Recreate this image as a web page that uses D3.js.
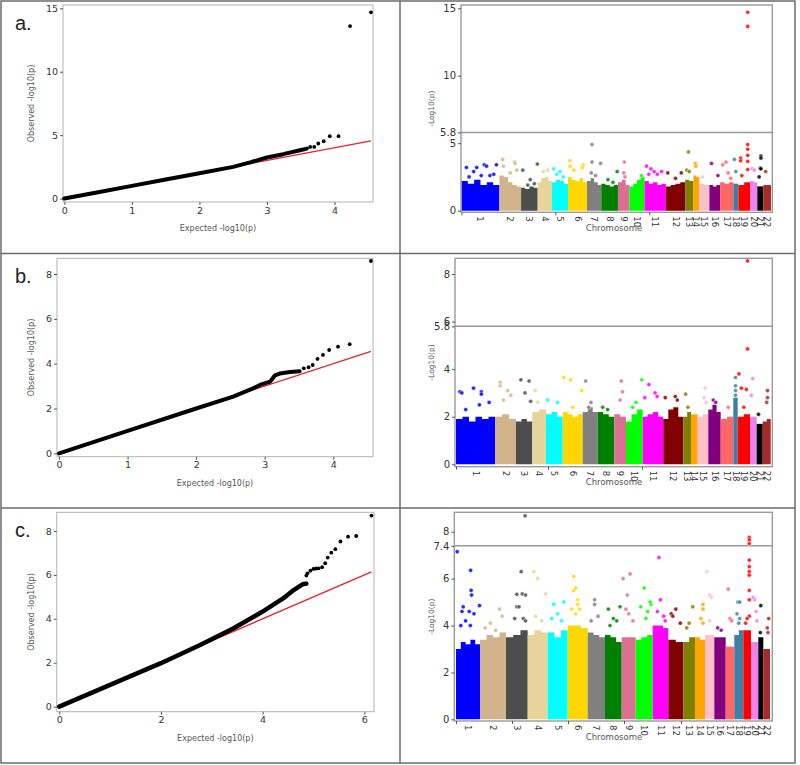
<!DOCTYPE html>
<html><head><meta charset="utf-8">
<script src="https://cdn.jsdelivr.net/npm/d3@7"></script>
<style>body{margin:0;background:#fff} svg{display:block} text{font-family:"DejaVu Sans",sans-serif}</style>
</head><body><svg id="chart" width="800" height="765"></svg>
<script>
// ---------------- DATA ----------------
const chromosomes = ["1","2","3","4","5","6","7","8","9","10","11","12","13","14","15","16","17","18","19","20","21","22"];
const chrColors = ["#0000ff","#d2b48c","#4d4d4d","#e6d49a","#00ffff","#ffd700","#808080","#008000","#db7093","#00ff00","#ff00ff","#800000","#808000","#ffa500","#ffc0cb","#800080","#ff6666","#3b80a5","#ff0000","#ee82ee","#000000","#a52a2a"];

// QQ plots: dense part of the curve [expected, observed], and the separate tail points
const qqCurveA = [[0,0],[0.5,0.5],[1,1],[1.5,1.5],[2,2],[2.5,2.5],[2.75,2.85],[3.0,3.24],[3.24,3.5],[3.49,3.81],[3.59,3.94]];
const qqTailA  = [[3.64,4.07],[3.70,4.07],[3.76,4.34],[3.84,4.52],[3.93,4.92],[4.06,4.92],[4.23,13.6],[4.54,14.68]];
const qqCurveB = [[0,0],[1,1],[2,2],[2.54,2.53],[2.83,2.9],[2.93,3.05],[3.08,3.2],[3.15,3.48],[3.22,3.56],[3.37,3.63],[3.51,3.66]];
const qqTailB  = [[3.57,3.79],[3.64,3.84],[3.70,3.94],[3.77,4.21],[3.85,4.39],[3.94,4.61],[4.07,4.76],[4.24,4.87],[4.55,8.58]];
const qqCurveC = [[0,0],[1,0.99],[2,1.98],[2.77,2.81],[3.43,3.57],[4.0,4.33],[4.41,4.94],[4.61,5.31],[4.80,5.59],[4.86,5.6]];
const qqTailC  = [[4.86,5.97],[4.88,6.07],[4.94,6.19],[5.0,6.27],[5.05,6.29],[5.10,6.30],[5.17,6.35],[5.23,6.53],[5.28,6.79],[5.35,7.01],[5.43,7.17],[5.53,7.52],[5.68,7.74],[5.84,7.77],[6.14,8.70]];
const qqXTicksA = [0,1,2,3,4], qqYTicksA = [0,5,10,15];
const qqXTicksB = [0,1,2,3,4], qqYTicksB = [0,2,4,6,8];
const qqXTicksC = [0,2,4,6],   qqYTicksC = [0,2,4,6,8];

// Manhattan: SNP counts per chromosome (thousands)
const snpA = [38,21.7,16.6,14.4,16,19,14.3,16.7,11.6,15,21.4,19.3,8.3,6,10,10.7,13.3,5,11.7,7.3,6,7.7];
const snpB = [39,21,16.3,13.7,16.7,20,15,16.6,11.7,16.7,20.6,20,7.7,6.7,10.6,12.4,12.6,4.4,12.3,6.7,6,8];
const snpC = [24,26,21.7,20,20,20,17.3,16.7,14,17,15.6,15,11.7,10,9.3,11.4,8.6,9,7.7,7.3,5,6.7];

// Upper edge of the dense mass of points, along each chromosome (-log10 p)
const denseA = [[2.2,2.0,2.3,1.9,2.1,1.9],[2.6,2.5,2.1,1.9,1.8],[1.7,1.6,1.8,1.7],[2.1,2.4,2.5,2.2],[2.1,2.3,2.2,2.0],[2.5,2.3,2.2,2.4,2.1],[2.2,2.4,2.1,1.9],[2.0,1.9,1.8,1.9],[2.1,2.3,1.9],[1.8,2.0,2.3,2.5],[2.2,2.0,2.1,1.9,2.0],[1.8,1.9,2.0,2.1],[2.3,2.2],[2.6,2.5],[2.0,1.9],[1.9,1.8,1.9],[2.1,2.0,2.1],[2.0],[1.9,2.1],[2.2,2.1],[1.8],[1.9,1.9]];
const denseB = [[1.9,2.0,1.8,2.0,1.9,2.0],[2.0,2.1,1.9],[1.8,1.9,1.8],[2.2,2.3],[2.1,2.2,2.0],[2.2,2.1,2.0,2.1],[2.2,2.4,2.2],[2.2,2.1,2.0],[2.1,2.0],[1.8,2.1,2.3],[2.0,2.1,2.2,2.0],[1.9,2.3,2.4,2.0],[2.0,2.2],[2.1],[2.0,2.1],[2.3,2.5,2.2],[1.9,2.0],[2.8],[2.0,2.1],[2.0],[1.7],[1.8,1.9]];
const denseC = [[3.0,3.3,3.2,3.4,3.2],[3.4,3.6,3.5,3.7],[3.5,3.6,3.8],[3.6,3.8,3.7],[3.7,3.5,3.8],[4.0,4.0,3.9],[3.7,3.6,3.5],[3.6,3.5,3.3],[3.5,3.5],[3.4,3.5,3.6],[4.0,4.0,3.9],[3.4,3.3],[3.3,3.5],[3.5,3.4],[3.6],[3.5,3.5],[3.1],[3.6,3.8],[3.8],[3.3],[3.5],[3.0]];

// Individual points above the dense mass: [chromosome, relative position in chromosome, -log10 p]
const hitsA = [
 [1,0.13,3.2],[1,0.32,2.9],[1,0.4,3.2],[1,0.52,2.6],[1,0.6,3.4],[1,0.66,3.3],[1,0.75,2.6],[1,0.92,3.4],[1,0.2,2.5],[1,0.85,2.7],
 [2,0.15,3.8],[2,0.18,3.3],[2,0.7,3.6],[2,0.72,3.5],[2,0.8,3.0],[2,0.5,2.8],
 [3,0.1,3.0],[3,0.55,2.3],[3,0.4,1.9],[3,0.8,2.0],[3,0.98,3.45],
 [4,0.7,3.0],[4,0.4,2.9],
 [5,0.1,3.1],[5,0.5,2.9],[5,0.7,2.5],[5,0.3,2.7],
 [6,0.1,3.7],[6,0.12,3.3],[6,0.8,3.4],[6,0.75,3.2],[6,0.3,3.0],
 [7,0.35,4.9],[7,0.35,3.6],[7,0.3,2.8],[7,0.95,3.5],[7,0.6,2.6],
 [8,0.4,2.3],[8,0.7,2.1],[8,0.95,2.9],
 [9,0.55,3.6],[9,0.5,2.8],[9,0.6,2.5],
 [10,0.8,2.6],
 [11,0.1,3.3],[11,0.3,3.1],[11,0.45,2.9],[11,0.6,2.7],[11,0.8,2.9],[11,0.2,2.7],
 [12,0.1,2.8],[12,0.8,2.8],[12,0.5,2.4],
 [13,0.4,4.35],[13,0.2,3.0],[13,0.5,2.9],
 [14,0.3,3.5],[14,0.4,3.3],
 [15,0.3,2.5],
 [16,0.2,3.5],[16,0.8,2.6],
 [17,0.2,3.4],[17,0.45,3.6],[17,0.6,2.8],[17,0.8,2.4],
 [18,0.2,3.8],[18,0.5,2.9],
 [19,0.2,3.9],[19,0.2,3.7],[19,0.8,4.9],[19,0.8,4.55],[19,0.8,4.1],[19,0.8,3.65],[19,0.8,3.05],[19,0.3,2.6],[19,0.8,14.7],[19,0.8,13.65],
 [20,0.3,3.1],[20,0.6,3.0],
 [21,0.6,4.05],[21,0.6,3.9],[21,0.5,3.15],[21,0.6,3.1],[21,0.3,2.5],
 [22,0.3,2.9]
];
const hitsB = [
 [1,0.1,3.05],[1,0.15,3.0],[1,0.45,3.2],[1,0.65,3.05],[1,0.65,2.95],[1,0.85,2.6],[1,0.6,2.5],[1,0.25,2.3],
 [2,0.25,3.45],[2,0.25,3.3],[2,0.6,3.1],[2,0.75,2.9],[2,0.4,2.7],
 [3,0.3,3.55],[3,0.8,3.5],[3,0.55,3.0],[3,0.9,2.65],
 [4,0.2,3.1],[4,0.4,2.6],
 [5,0.1,2.7],[5,0.7,2.6],
 [6,0.05,3.65],[6,0.4,3.55],[6,0.5,2.4],[6,0.95,3.1],
 [7,0.2,3.5],[7,0.55,2.6],[7,0.4,2.4],
 [8,0.3,2.4],[8,0.6,2.3],
 [9,0.6,3.5],[9,0.7,3.05],[9,0.5,2.7],
 [10,0.95,3.55],[10,0.6,2.6],[10,0.4,2.4],
 [11,0.3,3.35],[11,0.6,3.0],[11,0.7,2.85],[11,0.1,2.8],
 [12,0.1,2.8],[12,0.6,2.85],[12,0.7,2.7],
 [13,0.3,2.95],[13,0.6,2.4],
 [15,0.7,3.2],[15,0.6,2.8],[15,0.8,2.6],
 [16,0.4,2.7],[16,0.6,2.6],
 [17,0.6,2.4],
 [18,0.5,3.65],[18,0.5,3.3],[18,0.5,3.1],[18,0.5,2.9],
 [19,0.1,3.8],[19,0.3,3.2],[19,0.7,3.15],[19,0.5,2.4],[19,0.8,4.85],[19,0.8,8.55],
 [20,0.4,3.6],[20,0.2,2.9],
 [21,0.3,2.1],
 [22,0.6,3.1],[22,0.6,2.8],[22,0.5,2.6]
];
const hitsC = [
 [1,0.05,7.15],[1,0.61,6.35],[1,0.63,5.5],[1,0.65,5.3],[1,0.3,4.8],[1,0.98,4.85],[1,0.25,4.6],[1,0.55,4.6],[1,0.75,4.5],[1,0.4,4.2],[1,0.2,4.0],[1,0.6,4.0],
 [2,0.75,4.7],[2,0.85,4.4],[2,0.4,4.1],[2,0.2,3.9],[2,0.6,3.8],
 [3,0.88,8.68],[3,0.7,6.3],[3,0.5,5.33],[3,0.75,5.35],[3,0.9,5.3],[3,0.5,4.8],[3,0.6,4.8],[3,0.4,4.3],[3,0.8,4.3],[3,0.9,4.2],
 [4,0.3,6.3],[4,0.5,6.0],[4,0.9,5.35],[4,0.4,4.4],[4,0.7,4.2],
 [5,0.3,4.9],[5,0.8,5.0],[5,0.5,4.5],[5,0.2,4.3],[5,0.7,4.2],
 [6,0.3,6.1],[6,0.3,5.5],[6,0.4,5.6],[6,0.5,5.1],[6,0.5,4.9],[6,0.2,4.7],[6,0.6,4.7],[6,0.4,4.5],
 [7,0.4,5.1],[7,0.4,4.9],[7,0.6,4.4],[7,0.2,4.2],
 [8,0.9,4.8],[8,0.2,4.7],[8,0.5,4.3],[8,0.7,4.2],[8,0.3,4.0],
 [9,0.1,6.0],[9,0.6,6.2],[9,0.4,5.3],[9,0.3,4.7],[9,0.5,4.5],[9,0.8,4.2],
 [10,0.5,5.6],[10,0.3,4.8],[10,0.7,4.6],[10,0.9,4.9],[10,0.6,4.3],[10,0.85,5.0],
 [11,0.4,6.9],[11,0.5,5.1],[11,0.3,4.6],[11,0.7,4.4],[11,0.8,4.2],
 [12,0.2,4.5],[12,0.5,4.7],[12,0.3,4.4],[12,0.8,4.1],
 [13,0.8,4.8],[13,0.5,4.1],[13,0.3,3.9],
 [14,0.8,4.9],[14,0.8,4.7],[14,0.6,4.3],[14,0.8,4.1],
 [15,0.2,6.3],[15,0.5,5.3],[15,0.7,5.2],[15,0.5,4.2],
 [16,0.3,3.9],[16,0.6,3.8],
 [17,0.3,5.55],[17,0.5,4.3],[17,0.7,4.2],
 [18,0.4,5.0],[18,0.6,5.0],[18,0.3,4.5],[18,0.6,4.3],[18,0.5,4.1],
 [19,0.78,7.76],[19,0.78,7.65],[19,0.78,7.5],[19,0.78,6.79],[19,0.78,6.51],[19,0.78,6.3],[19,0.78,6.15],[19,0.78,5.5],[19,0.78,5.1],[19,0.78,4.4],[19,0.5,4.3],[19,0.3,4.1],
 [20,0.5,5.1],[20,0.3,5.2],[20,0.7,4.6],[20,0.8,4.2],
 [21,0.5,4.85],[21,0.4,3.7],
 [22,0.8,4.3],[22,0.6,3.9],[22,0.7,3.7]
];
const thresholdA = 5.8, thresholdB = 5.8, thresholdC = 7.4;
const mhYTicksA = [0,5,10,15], mhYTicksB = [0,2,4,6,8], mhYTicksC = [0,2,4,6,8];
const mhXTicksA = [0,94,188], mhXTicksB = [0,92,186], mhXTicksC = [0,56,112,168,225];
const panelLabels = ["a.","b.","c."];

// ---------------- DRAWING ----------------
const svg = d3.select("#chart");
const gridCol = "#6b6b6b";
svg.append("rect").attr("x",1).attr("y",1).attr("width",794).attr("height",762)
  .attr("fill","none").attr("stroke",gridCol).attr("stroke-width",1.5);
svg.append("line").attr("x1",400).attr("x2",400).attr("y1",1).attr("y2",763).attr("stroke",gridCol).attr("stroke-width",1.5);
[253.5,508].forEach(yy=>svg.append("line").attr("x1",1).attr("x2",795).attr("y1",yy).attr("y2",yy).attr("stroke",gridCol).attr("stroke-width",1.5));

function styleAxis(g, fs){
  g.select(".domain").remove();
  g.selectAll(".tick line").attr("stroke","#555");
  g.selectAll(".tick text").attr("fill","#333").style("font-size",fs).style("font-family","DejaVu Sans, sans-serif");
}

function drawQQ(cfg, curve, tail, xTicks, yTicks, label){
  const x = d3.scaleLinear().domain(cfg.xd).range([cfg.x0,cfg.x1]);
  const y = d3.scaleLinear().domain(cfg.yd).range([cfg.y1,cfg.y0]);
  const g = svg.append("g");
  g.append("rect").attr("x",cfg.x0).attr("y",cfg.y0).attr("width",cfg.x1-cfg.x0).attr("height",cfg.y1-cfg.y0)
    .attr("fill","none").attr("stroke","#b3b3b3").attr("stroke-width",1);
  g.append("g").attr("transform",`translate(0,${cfg.y1})`)
    .call(d3.axisBottom(x).tickValues(xTicks).tickSize(3).tickPadding(2).tickFormat(d3.format("d"))).call(styleAxis,"9.5px");
  g.append("g").attr("transform",`translate(${cfg.x0},0)`)
    .call(d3.axisLeft(y).tickValues(yTicks).tickSize(3).tickPadding(2).tickFormat(d3.format("d"))).call(styleAxis,"9.5px");
  const maxE = tail[tail.length-1][0];
  g.append("line").attr("x1",x(0)).attr("y1",y(0)).attr("x2",x(maxE)).attr("y2",y(maxE))
    .attr("stroke","#e8202a").attr("stroke-width",1.3);
  g.append("path").datum(curve).attr("d",d3.line().x(d=>x(d[0])).y(d=>y(d[1])))
    .attr("fill","none").attr("stroke","#000").attr("stroke-width",cfg.lw)
    .attr("stroke-linecap","round").attr("stroke-linejoin","round");
  g.selectAll("circle.t").data(tail).join("circle").attr("class","t")
    .attr("cx",d=>x(d[0])).attr("cy",d=>y(d[1])).attr("r",1.9).attr("fill","#000");
  g.append("text").attr("x",(cfg.x0+cfg.x1)/2).attr("y",cfg.y1+29).attr("text-anchor","middle")
    .style("font-size","8px").attr("fill","#555").text("Expected -log10(p)");
  g.append("text").attr("transform",`translate(34,${(cfg.y0+cfg.y1)/2}) rotate(-90)`).attr("text-anchor","middle")
    .style("font-size","8px").attr("fill","#555").text("Observed -log10(p)");
  g.append("text").attr("x",15).attr("y",cfg.labY).style("font-size","20px")
    .style("font-family","Liberation Sans, Arial, sans-serif").attr("fill","#222").text(label);
}

function drawManhattan(cfg, sizes, dense, hits, thr, yTicks, xTicks){
  const starts = []; let acc = 0; sizes.forEach(s=>{starts.push(acc); acc+=s;});
  const x = d3.scaleLinear().domain([0,acc]).range([cfg.bx0,cfg.bx1]);
  const y = d3.scaleLinear().domain(cfg.yd).range([cfg.y1,cfg.y0]);
  const g = svg.append("g");
  const area = d3.area().curve(d3.curveStepAfter).x(d=>x(d[0])).y0(y(0)).y1(d=>y(d[1]));
  sizes.forEach((s,i)=>{
    const prof = dense[i], n = prof.length;
    const pts = prof.map((h,j)=>[starts[i]+s*j/n,h]);
    pts.push([starts[i]+s,prof[n-1]]);
    g.append("path").datum(pts).attr("d",area).attr("fill",chrColors[i]);
  });
  g.append("line").attr("x1",cfg.x0).attr("x2",cfg.x1).attr("y1",y(thr)).attr("y2",y(thr))
    .attr("stroke","#999").attr("stroke-width",1.5);
  g.selectAll("circle.h").data(hits).join("circle").attr("class","h")
    .attr("cx",d=>x(starts[d[0]-1]+d[1]*sizes[d[0]-1])).attr("cy",d=>y(d[2])).attr("r",2.1)
    .attr("fill",d=>chrColors[d[0]-1]).attr("fill-opacity",0.85).attr("stroke","#fff").attr("stroke-width",0.5);
  g.append("rect").attr("x",cfg.x0).attr("y",cfg.y0).attr("width",cfg.x1-cfg.x0).attr("height",cfg.y1-cfg.y0)
    .attr("fill","none").attr("stroke","#9a9a9a").attr("stroke-width",1.4);
  g.append("g").attr("transform",`translate(${cfg.x0},0)`)
    .call(d3.axisLeft(y).tickValues(yTicks.concat([thr])).tickSize(3).tickPadding(2)
      .tickFormat(d=>d===thr?d3.format(".1f")(d):d3.format("d")(d))).call(styleAxis,"10px");
  g.append("g").attr("transform",`translate(0,${cfg.y1})`)
    .call(d3.axisBottom(x).tickValues(xTicks).tickSize(3).tickFormat("")).call(styleAxis,"9px");
  chromosomes.forEach((c,i)=>{
    const cx = x(starts[i]+sizes[i]/2), cy = cfg.y1+4;
    g.append("text").attr("transform",`translate(${cx},${cy}) rotate(90)`).attr("dy","0.35em")
      .style("font-size","8.5px").attr("fill","#333").text(c);
  });
  g.append("text").attr("x",614).attr("y",cfg.y1+18.5).attr("text-anchor","middle")
    .style("font-size","8.5px").attr("fill","#555").text("Chromosome");
  g.append("text").attr("transform",`translate(434,${(cfg.y0+cfg.y1)/2}) rotate(-90)`).attr("text-anchor","middle")
    .style("font-size","7.5px").attr("fill","#555").text("-Log10(p)");
}

drawQQ({x0:63,x1:373,y0:5,y1:202,xd:[-0.02,4.57],yd:[-0.27,15.26],labY:30,lw:4}, qqCurveA, qqTailA, qqXTicksA, qqYTicksA, panelLabels[0]);
drawQQ({x0:57,x1:373,y0:258.3,y1:456.7,xd:[-0.03,4.58],yd:[-0.15,8.7],labY:283,lw:4}, qqCurveB, qqTailB, qqXTicksB, qqYTicksB, panelLabels[1]);
drawQQ({x0:56.7,x1:374,y0:512.3,y1:711.7,xd:[-0.05,6.19],yd:[-0.23,8.85],labY:537,lw:4.5}, qqCurveC, qqTailC, qqXTicksC, qqYTicksC, panelLabels[2]);

drawManhattan({x0:461,x1:772.3,bx0:461.5,bx1:771,y0:5,y1:212.3,yd:[-0.12,15.24]}, snpA, denseA, hitsA, thresholdA, mhYTicksA, mhXTicksA);
drawManhattan({x0:455,x1:772.3,bx0:456,bx1:770.7,y0:258.3,y1:466.7,yd:[-0.1,8.66]}, snpB, denseB, hitsB, thresholdB, mhYTicksB, mhXTicksB);
drawManhattan({x0:454.3,x1:772.3,bx0:456,bx1:770,y0:512.3,y1:721,yd:[-0.07,8.83]}, snpC, denseC, hitsC, thresholdC, mhYTicksC, mhXTicksC);
</script></body></html>
